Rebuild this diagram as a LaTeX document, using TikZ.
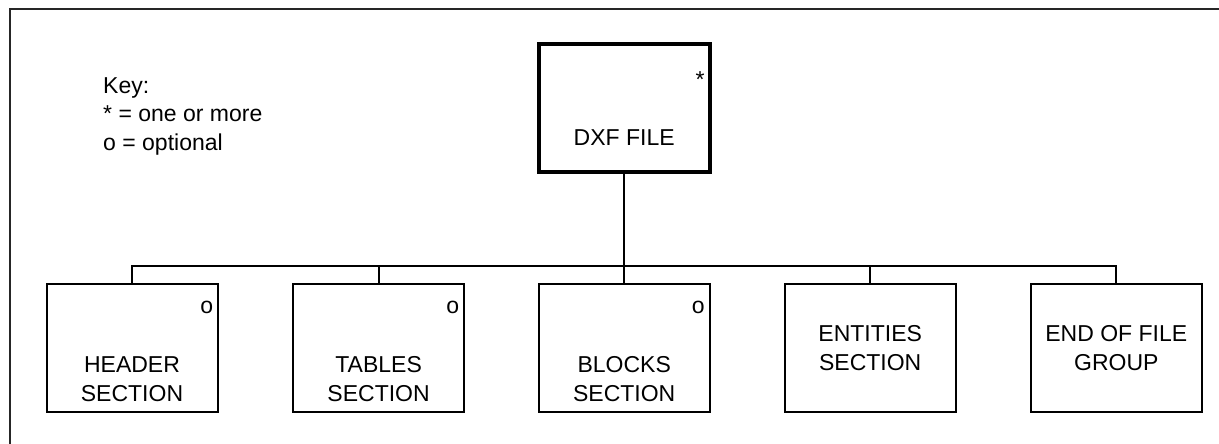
\documentclass[tikz,border=0pt]{standalone}
\usepackage{fontspec}
\setmainfont{Liberation Sans}
\begin{document}
\begin{tikzpicture}[x=1pt,y=-1pt,
  box/.style={draw, line width=2pt, minimum width=171pt, minimum height=128pt, inner sep=0pt},
  topbox/.style={draw, line width=4pt, minimum width=171pt, minimum height=128pt, inner sep=0pt},
  lbl/.style={font=\fontsize{23}{29}\selectfont, align=center, anchor=base, inner sep=0pt},
  keytext/.style={font=\fontsize{23}{28.3}\selectfont, align=left, anchor=base west, inner sep=0pt},
  cornermark/.style={font=\fontsize{23}{28}\selectfont, inner sep=0pt},
  wire/.style={line width=2pt, line join=miter},
  frameline/.style={line width=1.5pt, black!85}]
\useasboundingbox (0,0) rectangle (1219,444);
% frame
\coordinate (fBL) at (10,444);
\coordinate (fTL) at (10,9);
\coordinate (fTR) at (1219,9);
\draw[frameline] (fBL) -- (fTL) -- (fTR);
% key (base anchor = last line baseline)
\node[keytext] (key) at (103,150) {Key:\\* = one or more\\o = optional};
% top box
\node[topbox] (dxf) at (624.2,108.2) {};
\node[lbl] (tdxf) at (624.2,145.7) {DXF FILE};
\node[cornermark, anchor=base] (sdxf) at (700,88) {*};
% bottom boxes
\node[box] (hdr) at (132,348) {};
\node[box] (tbl) at (378.6,348) {};
\node[box] (blk) at (624.2,348) {};
\node[box] (ent) at (870.2,348) {};
\node[box] (eof) at (1116.3,348) {};
\node[lbl] (thdr) at (132,401.7) {HEADER\\SECTION};
\node[lbl] (ttbl) at (378.6,401.7) {TABLES\\SECTION};
\node[lbl] (tblk) at (624.2,401.7) {BLOCKS\\SECTION};
\node[lbl] (tent) at (870.2,370.7) {ENTITIES\\SECTION};
\node[lbl] (teof) at (1116.3,370.7) {END OF FILE\\GROUP};
\node[cornermark] (ohdr) at (206.7,307.3) {o};
\node[cornermark] (otbl) at (452.7,307.3) {o};
\node[cornermark] (oblk) at (698.3,307.3) {o};
% connectors
\coordinate (bus) at (624.2,266);
\draw[wire] (hdr.north) -- (hdr.north |- bus) -- (eof.north |- bus) -- (eof.north);
\draw[wire] (dxf.south) -- (dxf.south |- bus);
\draw[wire] (tbl.north) -- (tbl.north |- bus);
\draw[wire] (blk.north) -- (blk.north |- bus);
\draw[wire] (ent.north) -- (ent.north |- bus);
\end{tikzpicture}
\end{document}
